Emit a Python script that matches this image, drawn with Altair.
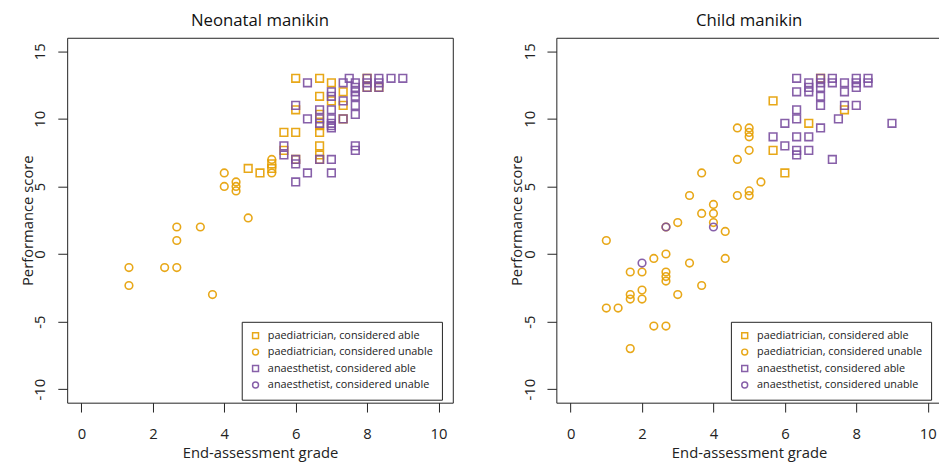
import altair as alt
import pandas as pd

FONT = "Open Sans"

groups = ["paediatrician, considered able", "paediatrician, considered unable",
          "anaesthetist, considered able", "anaesthetist, considered unable"]
group_colors = ["#E69F00", "#E69F00", "#7B4FA0", "#7B4FA0"]
group_shapes = ["square", "circle", "square", "circle"]

x_ticks = [0, 2, 4, 6, 8, 10]
y_ticks = [-10, -5, 0, 5, 10, 15]

# ---- Neonatal manikin ----
neo_paed_able_x = [6.0, 6.67, 7.0, 6.67, 7.33, 7.0, 7.33, 6.0, 6.67, 6.67, 6.67, 5.67, 6.0, 6.67,
                   5.67, 6.67, 6.0, 4.67, 5.0, 5.33, 5.33, 7.33, 8.0, 8.33, 6.67, 8.0]
neo_paed_able_y = [13.0, 13.0, 12.67, 11.67, 12.0, 11.33, 11.0, 10.67, 10.33, 9.5, 9.0, 9.0, 9.0, 8.0,
                   7.67, 7.33, 7.0, 6.33, 6.0, 6.67, 6.33, 10.0, 13.0, 12.33, 7.0, 12.33]
neo_paed_unable_x = [4.0, 4.0, 4.33, 4.33, 4.33, 4.67, 2.67, 3.33, 2.67, 1.33, 2.33, 2.67, 1.33,
                     3.67, 5.33, 5.33]
neo_paed_unable_y = [6.0, 5.0, 5.33, 5.0, 4.67, 2.67, 2.0, 2.0, 1.0, -1.0, -1.0, -1.0, -2.33,
                     -3.0, 7.0, 6.0]
neo_anaes_able_x = [6.33, 7.5, 7.33, 7.67, 7.67, 7.67, 8.0, 8.0, 8.0, 8.33, 8.33, 8.33, 8.67, 9.0,
                    7.0, 7.0, 7.33, 7.67, 7.67, 6.0, 6.67, 7.0, 6.33, 6.67, 6.67, 7.0, 7.0, 7.0,
                    7.0, 7.33, 5.67, 5.67, 6.0, 6.0, 6.67, 7.0, 7.67, 7.67, 6.33, 7.0, 6.0, 7.67]
neo_anaes_able_y = [12.67, 13.0, 12.67, 12.67, 12.33, 12.0, 13.0, 12.67, 12.33, 13.0, 12.67, 12.33,
                    13.0, 13.0, 12.0, 11.67, 11.33, 11.0, 10.33, 11.0, 10.67, 10.67, 10.0, 10.0,
                    9.67, 10.0, 9.67, 9.5, 9.33, 10.0, 8.0, 7.33, 7.0, 6.67, 7.0, 7.0, 8.0, 7.67,
                    6.0, 6.0, 5.33, 11.67]
neo_anaes_unable_x = []
neo_anaes_unable_y = []

# ---- Child manikin ----
child_paed_able_x = [7.0, 5.67, 7.67, 6.67, 5.67, 6.0]
child_paed_able_y = [13.0, 11.33, 10.67, 9.67, 7.67, 6.0]
child_paed_unable_x = [4.67, 5.0, 5.0, 5.0, 5.0, 4.67, 3.67, 5.33, 3.33, 4.67, 5.0, 5.0, 4.0, 3.67,
                       4.0, 4.0, 4.33, 3.0, 2.67, 1.0, 2.67, 2.33, 3.33, 4.33, 1.67, 2.0, 2.67,
                       2.67, 2.67, 2.0, 1.67, 1.67, 2.0, 3.0, 3.67, 1.0, 1.33, 2.33, 2.67, 1.67]
child_paed_unable_y = [9.33, 9.33, 9.0, 8.67, 7.67, 7.0, 6.0, 5.33, 4.33, 4.33, 4.67, 4.33, 3.67,
                       3.0, 3.0, 2.33, 1.67, 2.33, 2.0, 1.0, 0.0, -0.33, -0.67, -0.33, -1.33,
                       -1.33, -1.33, -1.67, -2.0, -2.67, -3.0, -3.33, -3.33, -3.0, -2.33, -4.0,
                       -4.0, -5.33, -5.33, -7.0]
child_anaes_able_x = [6.33, 6.67, 6.67, 6.67, 6.33, 7.0, 7.0, 7.0, 7.33, 7.33, 7.67, 7.67, 8.0, 8.0,
                      8.0, 8.33, 8.33, 7.67, 8.0, 6.33, 6.33, 6.0, 7.0, 7.5, 9.0, 5.67, 6.33, 6.67,
                      6.0, 6.33, 6.33, 6.67, 7.33, 7.0, 7.0]
child_anaes_able_y = [13.0, 12.67, 12.33, 12.0, 12.0, 12.33, 11.67, 11.0, 13.0, 12.67, 12.67, 12.0,
                      13.0, 12.67, 12.33, 13.0, 12.67, 11.0, 11.0, 10.67, 10.0, 9.67, 9.33, 10.0,
                      9.67, 8.67, 8.67, 8.67, 8.0, 7.67, 7.33, 7.67, 7.0, 13.0, 12.67]
child_anaes_unable_x = [4.0, 2.67, 2.0]
child_anaes_unable_y = [2.0, 2.0, -0.67]


def frame(series):
    rows = []
    for g, (xs, ys) in zip(groups, series):
        for xv, yv in zip(xs, ys):
            rows.append({"grade": xv, "score": yv, "group": g})
    return pd.DataFrame(rows)


neo_df = frame([(neo_paed_able_x, neo_paed_able_y), (neo_paed_unable_x, neo_paed_unable_y),
                (neo_anaes_able_x, neo_anaes_able_y), (neo_anaes_unable_x, neo_anaes_unable_y)])
child_df = frame([(child_paed_able_x, child_paed_able_y), (child_paed_unable_x, child_paed_unable_y),
                  (child_anaes_able_x, child_anaes_able_y), (child_anaes_unable_x, child_anaes_unable_y)])

W, H = 391, 370

legend = alt.Legend(title=None, orient="none", legendX=177, legendY=288,
                    strokeColor="#222", fillColor="white", padding=8.5, cornerRadius=0,
                    labelFont=FONT, labelFontSize=11, labelColor="#222", labelLimit=400,
                    symbolSize=36, symbolStrokeWidth=1.5, rowPadding=3.7, labelOffset=7)


def panel(df, title):
    return alt.Chart(df).mark_point(filled=False, size=60, strokeWidth=1.6, opacity=0.9).encode(
        x=alt.X("grade:Q", title="End-assessment grade",
                scale=alt.Scale(domain=[-0.4, 10.4], nice=False, zero=False),
                axis=alt.Axis(values=x_ticks, grid=False, domain=False, tickSize=9.5,
                              tickColor="#222", labelFont=FONT, labelFontSize=15,
                              labelColor="#222", labelPadding=15, titleFont=FONT,
                              titleFontSize=15, titleFontWeight="normal", titleColor="#222",
                              titleX=W / 2, titleY=56, titleAlign="center",
                              titleBaseline="alphabetic",
                              labelExpr="'' + datum.value")),
        y=alt.Y("score:Q", title="Performance score",
                scale=alt.Scale(domain=[-11, 16], nice=False, zero=False),
                axis=alt.Axis(values=y_ticks, grid=False, domain=False, tickSize=9.5,
                              tickColor="#222", labelFont=FONT, labelFontSize=15,
                              labelColor="#222", labelPadding=10, labelAngle=270,
                              labelAlign="center", labelBaseline="bottom",
                              titleFont=FONT, titleFontSize=15, titleFontWeight="normal",
                              titleColor="#222", titleAngle=270, titleX=-35, titleY=H / 2,
                              titleAlign="center", titleBaseline="alphabetic",
                              labelExpr="'' + datum.value")),
        color=alt.Color("group:N", scale=alt.Scale(domain=groups, range=group_colors),
                        legend=legend),
        shape=alt.Shape("group:N", scale=alt.Scale(domain=groups, range=group_shapes),
                        legend=legend),
    ).properties(
        width=W, height=H,
        title=alt.TitleParams(title, font=FONT, fontSize=17, fontWeight="normal",
                              color="#111", anchor="middle", offset=8),
    )


chart = alt.hconcat(
    panel(neo_df, "Neonatal manikin"), panel(child_df, "Child manikin"), spacing=56
).resolve_legend(
    color="independent", shape="independent"
).properties(
    padding={"left": 12, "top": 0, "right": -4, "bottom": 0}
).configure_view(stroke="#222", strokeWidth=1)

chart.save("out.html", embed_options={"renderer": "svg", "actions": False})
